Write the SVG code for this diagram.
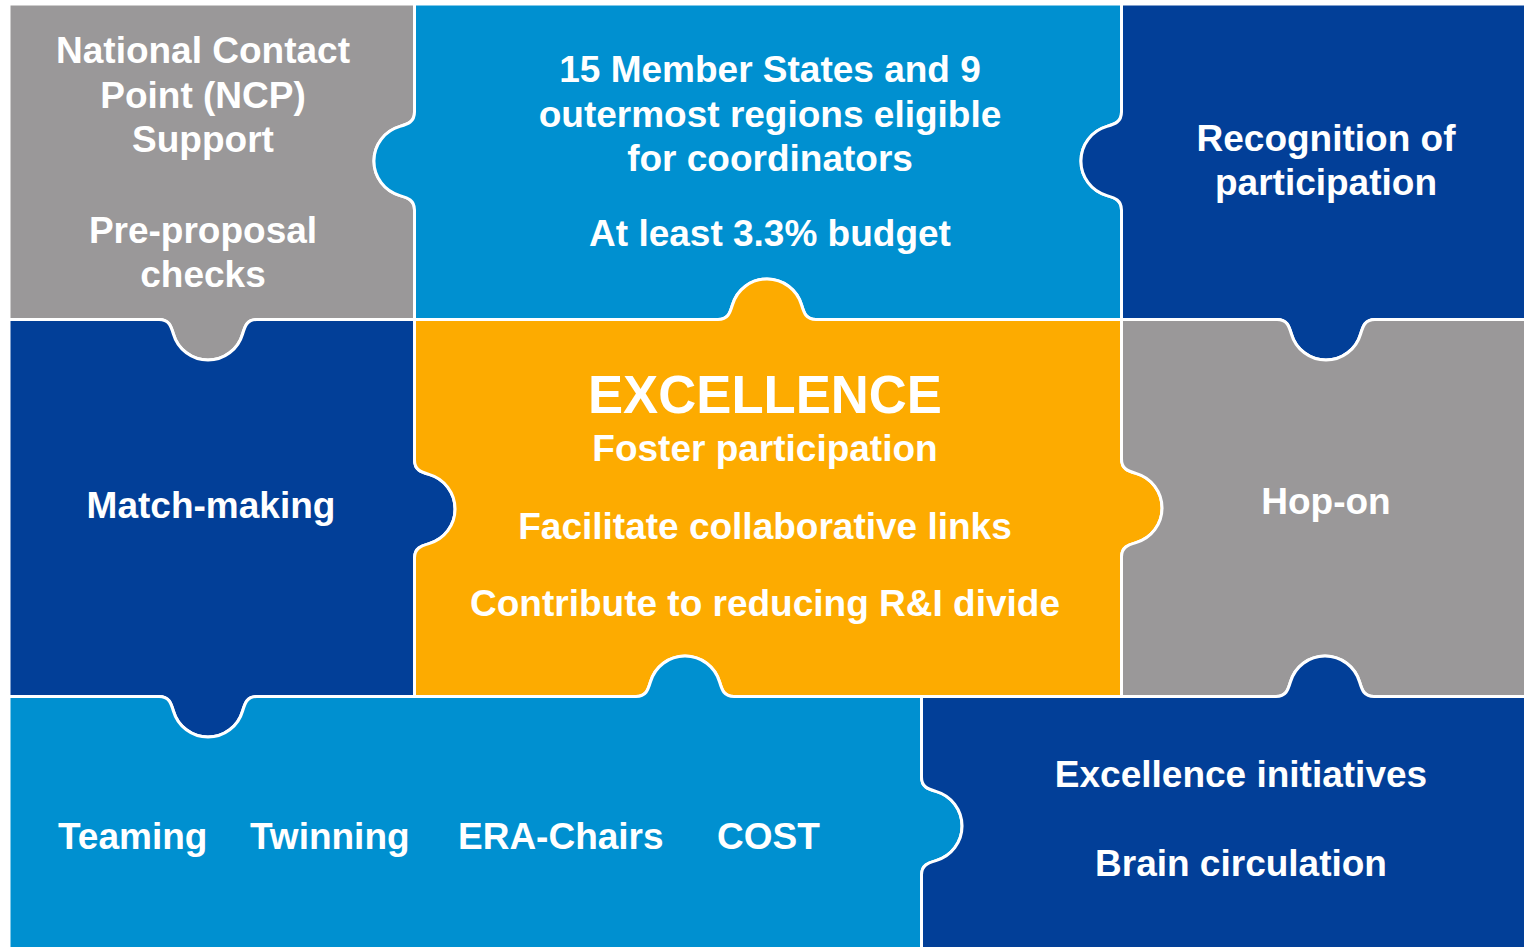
<svg xmlns="http://www.w3.org/2000/svg" width="1524" height="947" viewBox="0 0 1524 947">
<style>
.piece{stroke:#ffffff;stroke-width:3;stroke-linejoin:round}
.gray{fill:#9a9899}
.lblue{fill:#0090d0}
.dblue{fill:#023f98}
.orange{fill:#fdab00}
.t{font-family:"Liberation Sans",Arial,sans-serif;font-weight:bold;fill:#ffffff;font-size:37px;text-anchor:middle}
.s{text-anchor:start}
.big{font-size:54px}
</style>
<rect x="0" y="0" width="1524" height="947" fill="#ffffff"/>
<g id="connectors"></g>
<g id="ncp-support">
<path class="piece gray" d="M9,4 H414.5 V112 C414.5,122 408,124 400,126.4 A36,36 0 0 0 400,195.6 C408,198 414.5,200 414.5,210 V319.5 H257 C247,319.5 245,326 242.6,334 A36,36 0 0 1 173.4,334 C171,326 169,319.5 159,319.5 H9 Z"/>
<text class="t" x="203" y="63">National Contact</text>
<text class="t" x="203" y="108">Point (NCP)</text>
<text class="t" x="203" y="152">Support</text>
<text class="t" x="203" y="243">Pre-proposal</text>
<text class="t" x="203" y="287">checks</text>
</g>
<g id="member-states">
<path class="piece lblue" d="M414.5,4 H1121.5 V112 C1121.5,122 1115,124 1107,126.4 A36,36 0 0 0 1107,195.6 C1115,198 1121.5,200 1121.5,210 V319.5 H816 C806,319.5 804,313 801.6,305 A36,36 0 0 0 732.4,305 C730,313 728,319.5 718,319.5 H414.5 V210 C414.5,200 408,198 400,195.6 A36,36 0 0 1 400,126.4 C408,124 414.5,122 414.5,112 Z"/>
<text class="t" x="770" y="82">15 Member States and 9</text>
<text class="t" x="770" y="127">outermost regions eligible</text>
<text class="t" x="770" y="171">for coordinators</text>
<text class="t" x="770" y="246">At least 3.3% budget</text>
</g>
<g id="recognition">
<path class="piece dblue" d="M1121.5,4 H1530 V319.5 H1375 C1365,319.5 1363,326 1360.6,334 A36,36 0 0 1 1291.4,334 C1289,326 1287,319.5 1277,319.5 H1121.5 V210 C1121.5,200 1115,198 1107,195.6 A36,36 0 0 1 1107,126.4 C1115,124 1121.5,122 1121.5,112 Z"/>
<text class="t" x="1326" y="151">Recognition of</text>
<text class="t" x="1326" y="195">participation</text>
</g>
<g id="match-making">
<path class="piece dblue" d="M9,319.5 H159 C169,319.5 171,326 173.4,334 A36,36 0 0 0 242.6,334 C245,326 247,319.5 257,319.5 H414.5 V460 C414.5,470 421,472 429,474.4 A36,36 0 0 1 429,543.6 C421,546 414.5,548 414.5,558 V696.5 H257 C247,696.5 245,703 242.6,711 A36,36 0 0 1 173.4,711 C171,703 169,696.5 159,696.5 H9 Z"/>
<text class="t" x="211" y="518">Match-making</text>
</g>
<g id="excellence">
<path class="piece orange" d="M414.5,319.5 H718 C728,319.5 730,313 732.4,305 A36,36 0 0 1 801.6,305 C804,313 806,319.5 816,319.5 H1121.5 V459 C1121.5,469 1128,471 1136,473.4 A36,36 0 0 1 1136,542.6 C1128,545 1121.5,547 1121.5,557 V696.5 H734 C724,696.5 722,690 719.6,682 A36,36 0 0 0 650.4,682 C648,690 646,696.5 636,696.5 H414.5 V558 C414.5,548 421,546 429,543.6 A36,36 0 0 0 429,474.4 C421,472 414.5,470 414.5,460 Z"/>
<text class="t big" x="765" y="413" textLength="354" lengthAdjust="spacingAndGlyphs">EXCELLENCE</text>
<text class="t" x="765" y="461">Foster participation</text>
<text class="t" x="765" y="539">Facilitate collaborative links</text>
<text class="t" x="765" y="616">Contribute to reducing R&amp;I divide</text>
</g>
<g id="hop-on">
<path class="piece gray" d="M1121.5,319.5 H1277 C1287,319.5 1289,326 1291.4,334 A36,36 0 0 0 1360.6,334 C1363,326 1365,319.5 1375,319.5 H1530 V696.5 H1374 C1364,696.5 1362,690 1359.6,682 A36,36 0 0 0 1290.4,682 C1288,690 1286,696.5 1276,696.5 H1121.5 V557 C1121.5,547 1128,545 1136,542.6 A36,36 0 0 0 1136,473.4 C1128,471 1121.5,469 1121.5,459 Z"/>
<text class="t" x="1326" y="514">Hop-on</text>
</g>
<g id="widening-actions">
<path class="piece lblue" d="M9,696.5 H159 C169,696.5 171,703 173.4,711 A36,36 0 0 0 242.6,711 C245,703 247,696.5 257,696.5 H636 C646,696.5 648,690 650.4,682 A36,36 0 0 1 719.6,682 C722,690 724,696.5 734,696.5 H921.5 V777 C921.5,787 928,789 936,791.4 A36,36 0 0 1 936,860.6 C928,863 921.5,865 921.5,875 V952 H9 Z"/>
<text class="t s" x="58" y="849">Teaming</text>
<text class="t s" x="250" y="849">Twinning</text>
<text class="t s" x="458" y="849">ERA-Chairs</text>
<text class="t s" x="717" y="849">COST</text>
</g>
<g id="excellence-initiatives">
<path class="piece dblue" d="M921.5,696.5 H1276 C1286,696.5 1288,690 1290.4,682 A36,36 0 0 1 1359.6,682 C1362,690 1364,696.5 1374,696.5 H1530 V952 H921.5 V875 C921.5,865 928,863 936,860.6 A36,36 0 0 0 936,791.4 C928,789 921.5,787 921.5,777 Z"/>
<text class="t" x="1241" y="787">Excellence initiatives</text>
<text class="t" x="1241" y="876">Brain circulation</text>
</g>
</svg>
